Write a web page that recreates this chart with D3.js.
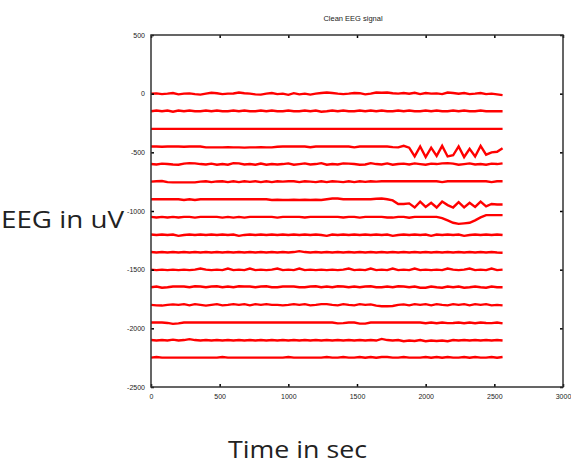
<!DOCTYPE html>
<html lang="en">
<head>
    <meta charset="UTF-8">
    <title>Clean EEG signal</title>
    <script src="https://cdn.jsdelivr.net/npm/d3@7"></script>
    <style>
        body { margin: 0; background: #fff; }
        .tick text { font-family: "Liberation Sans", Arial, sans-serif; font-size: 7px; fill: #222; }
    </style>
</head>
<body>
<script>
    // chart size
    var width = 571,
        height = 464,
        margin = { top: 35, right: 8, bottom: 77, left: 151 };
    var g_width = width - margin.left - margin.right,
        g_height = height - margin.top - margin.bottom;

    // tick labels
    var xTicks = [0, 500, 1000, 1500, 2000, 2500, 3000];
    var yTicks = [500, 0, -500, -1000, -1500, -2000, -2500];

    // one sample every 40 points, 0..2560
    var sampleStep = 40;
    // channel offsets (uV)
    var offsets = [0, -150, -300, -450, -600, -750, -900, -1050, -1200, -1350, -1500, -1650, -1800, -1950, -2100, -2250];

    // channel values relative to their offset (uV)
    var ch0 = [0,2,-4,0,6,-6,0,2,-4,-8,0,8,4, -4,0,2,10,4,0,-6,-8,0,6,-4,0,-10, 4,-6,0,-8,0,6,10,6,0,-4,0,6,4, -6,0,10,8,10,4,0,6,0,8,-4,6,0, 2,-4,10,6,0,6,-4,0,6,-4,0,-6,-12];
    var ch1 = [0,6,0,6,-4,6,0,6,0,0,6,0,6, 0,0,6,0,6,0,0,6,0,6,0,0,6, 0,0,6,0,6,-4,0,6,0,6,0,0,6, 0,6,0,6,0,0,6,0,6,0,0,6,0, 6,0,0,6,0,6,0,0,6,0,0,0,0];
    var ch2 = [0,0,0,0,0,0,0,0,0,0,0,0,0, 0,0,0,0,0,0,0,0,0,0,0,0,0, 0,0,0,0,0,0,0,0,0,0,0,0,0, 0,0,0,0,0,0,0,0,0,0,0,0,0, 0,0,0,0,0,0,0,0,0,0,0,0,0];
    var ch3 = [0,0,-2,0,0,0,-2,0,0,0,-8,-8,-8, -8,-6,-8,-8,-10,-8,-8,-6,-8,-8,-2,0,0, 0,0,0,-6,0,0,0,0,0,0,0,-8,0, 0,0,0,0,0,-6,-8,6,-10,-85,0,-90,-10, -80,5,-85,-75,0,-90,-20,-85,5,-70,-50,-45,-15];
    var ch4 = [0,-4,4,0,-4,-6,4,8,6,0,-4,4,-6, 0,-6,8,6,-4,0,-6,4,-6,0,-4,0,6, -6,0,6,-4,0,8,-6,0,-4,6,4,0,-6, -4,8,0,-4,6,-6,0,4,-4,6,0,-6,4, 0,6,8,4,-6,0,6,-4,0,-6,4,0,6];
    var ch5 = [0,4,6,-4,-6,-6,-6,-6,-6,0,4,-4,2, 4,-4,4,-4,4,-2,4,-4,4,-4,4,0,4, 4,-4,4,0,-4,4,-4,4,0,-4,4,-4,4, -2,4,0,4,4,4,4,4,4,4,4,4,4, 4,-4,4,4,4,4,4,4,4,4,-4,4,4];
    var ch6 = [0,0,0,0,0,0,-6,0,-6,0,0,0,0, 0,0,0,0,0,0,0,0,0,-6,-4,-6,-6, -4,-6,-4,-6,-4,-6,0,6,6,0,0,0,0, 0,0,4,6,0,-10,-40,-40,-35,-70,-20,-65,-30, -70,-20,-50,-70,-25,-70,-30,-65,-20,-60,-40,-45,-45];
    var ch7 = [0,-5,0,-5,0,-5,0,0,-6,0,0,0,0, -6,0,-6,0,-6,0,0,0,0,0,-6,0,0, 0,0,-5,0,0,0,0,0,0,-5,0,0,-6, 0,0,0,0,-5,-6,0,0,-8,0,0,0,0, 0,-10,-30,-50,-60,-55,-50,-30,-5,15,15,15,15];
    var ch8 = [0,-5,0,-5,0,-12,-5,0,-5,0,-4,0,-5, 0,-5,0,-12,-4,0,-5,0,-5,0,-5,0,-4, 0,-5,0,-5,0,-5,-12,0,-5,0,-5,0,-5, 0,-5,0,-5,0,-12,-5,0,-5,0,-5,0,-12, 0,-5,0,-5,0,-12,-5,0,-5,0,-5,0,-4];
    var ch9 = [0,-4,0,-4,0,-4,0,-4,0,-4,0,-4,0, -4,0,-4,0,-4,0,-4,0,-4,0,-4,0,-4, 0,8,0,-4,0,-4,0,-4,0,-4,0,-4,0, -4,0,-4,0,-4,0,-4,0,-4,0,-4,0,-4, 0,-4,0,-4,0,-4,0,-4,0,-4,0,-4,-6];
    var ch10 = [0,-4,0,-4,0,-4,0,-4,0,10,0,-4,0, -4,10,-4,0,-4,10,-4,0,-4,0,10,-4,0, -4,10,-4,0,-4,0,-4,0,-4,0,10,-4,0, -4,10,-4,0,-4,10,-4,0,-4,10,-4,0,-4, 0,-4,10,0,-4,0,10,-4,0,-4,10,-4,0];
    var ch11 = [0,6,-4,0,6,8,6,0,8,6,0,6,8, 0,6,0,8,6,6,0,6,8,0,0,6,8, 6,0,0,6,8,0,6,0,8,6,0,6,0, 6,8,0,0,6,0,8,6,0,6,-4,-4,6, 0,-4,6,0,6,-4,0,6,0,-4,6,0,0];
    var ch12 = [0,-4,-6,0,4,0,6,-4,6,0,-6,0,6, -4,0,6,0,6,-4,6,0,6,0,0,-4,0, 6,0,6,-4,0,6,6,0,-4,6,0,-4,6, 0,4,-6,-12,-12,-10,0,4,-4,6,0,6,-4, 6,0,-4,6,0,6,-4,6,0,6,-4,0,-4];
    var ch13 = [0,0,0,-4,-12,-8,0,0,0,0,0,0,0, 0,0,0,0,0,0,0,0,0,0,0,0,0, 0,0,0,0,0,0,0,0,-8,-6,0,0,-10, -10,0,0,0,0,0,0,0,0,0,0,-6,0, -6,0,-6,-4,0,-6,0,-6,0,-4,-6,0,-8];
    var ch14 = [0,-4,0,-4,4,-4,0,8,0,-4,0,-4,0, -4,0,-4,0,-4,0,-4,0,-4,0,-4,0,-4, 0,-4,0,-4,0,-4,0,-4,0,-4,0,-4,0, -4,0,-4,10,0,-4,0,-10,-4,-8,0,-10,-4, -8,-4,-10,0,-4,0,-4,0,-4,0,-4,0,-4];
    var ch15 = [0,6,0,0,0,0,0,0,0,0,0,0,0, 6,0,0,0,0,0,0,0,0,0,0,0,6, 0,0,0,0,0,0,6,0,0,6,0,0,6, 0,6,0,6,6,0,0,6,0,0,0,6,0, 6,0,6,0,0,6,0,6,0,0,6,0,6];

    var channels = [ch0, ch1, ch2, ch3, ch4, ch5, ch6, ch7, ch8, ch9, ch10, ch11, ch12, ch13, ch14, ch15];

    var oSvg = d3.select('body').append('svg')
        .attr('width', width)
        .attr('height', height);

    var g = oSvg.append('g')
        .attr('transform', 'translate(' + margin.left + ',' + margin.top + ')');

    // scales
    var x_scale = d3.scaleLinear().domain([0, 3000]).range([0, g_width]);
    var y_scale = d3.scaleLinear().domain([-2500, 500]).range([g_height, 0]);

    // traces
    var line = d3.line()
        .x(function (d, i) { return x_scale(i * sampleStep); })
        .y(function (d) { return y_scale(d); });

    g.selectAll('path.trace')
        .data(channels)
        .enter()
        .append('path')
        .attr('class', 'trace')
        .attr('fill', 'none')
        .attr('stroke', '#ff0000')
        .attr('stroke-width', 2.4)
        .attr('stroke-linejoin', 'miter')
        .attr('d', function (d, c) {
            return line(d.map(function (v) { return v + offsets[c]; }));
        });

    // axes, matlab style: inward ticks, plain numbers
    var fmt = function (d) { return String(d); };
    var xAxis = d3.axisBottom(x_scale).tickValues(xTicks).tickSizeInner(-3).tickSizeOuter(0).tickPadding(7).tickFormat(fmt);
    var xTop = d3.axisTop(x_scale).tickValues(xTicks).tickSizeInner(-3).tickSizeOuter(0).tickFormat('');
    var yAxis = d3.axisLeft(y_scale).tickValues(yTicks).tickSizeInner(-3).tickSizeOuter(0).tickPadding(6).tickFormat(fmt);
    var yRight = d3.axisRight(y_scale).tickValues(yTicks).tickSizeInner(-3).tickSizeOuter(0).tickFormat('');

    g.append('g').attr('transform', 'translate(0,' + g_height + ')').call(xAxis);
    g.append('g').call(xTop);
    g.append('g').call(yAxis);
    g.append('g').attr('transform', 'translate(' + g_width + ',0)').call(yRight);

    g.selectAll('.domain').remove();
    g.selectAll('.tick line').attr('stroke', '#000').attr('stroke-width', 1.5);

    // box
    g.append('rect')
        .attr('width', g_width)
        .attr('height', g_height)
        .attr('fill', 'none')
        .attr('stroke', '#333')
        .attr('stroke-width', 1.5);

    // title
    oSvg.append('text')
        .attr('x', margin.left + g_width / 2 - 4)
        .attr('y', 21)
        .attr('text-anchor', 'middle')
        .style('font-family', '"Liberation Sans", Arial, sans-serif')
        .style('font-size', '7.5px')
        .style('fill', '#222')
        .text('Clean EEG signal');

    // axis labels
    oSvg.append('text')
        .attr('x', 1)
        .attr('y', 228)
        .attr('textLength', 123)
        .attr('lengthAdjust', 'spacingAndGlyphs')
        .style('font-family', '"Open Sans", sans-serif')
        .style('font-size', '24px')
        .style('fill', '#222')
        .text('EEG in uV');

    oSvg.append('text')
        .attr('x', 228)
        .attr('y', 458)
        .attr('textLength', 139)
        .attr('lengthAdjust', 'spacingAndGlyphs')
        .style('font-family', '"Open Sans", sans-serif')
        .style('font-size', '23px')
        .style('fill', '#222')
        .text('Time in sec');
</script>
</body>
</html>
